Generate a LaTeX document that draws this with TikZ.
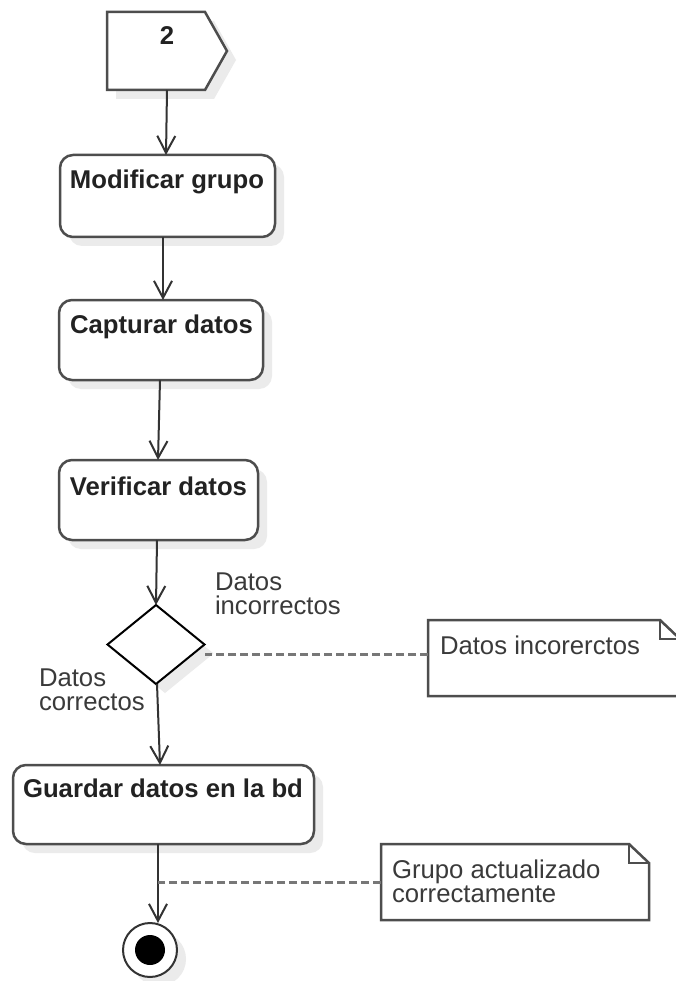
\documentclass[tikz,border=0pt]{standalone}
\usepackage{fontspec}
\setmainfont{Liberation Sans}
\usetikzlibrary{arrows.meta,shapes.geometric,shadows}

\definecolor{edgeC}{HTML}{333333}
\definecolor{boxC}{HTML}{4D4D4D}
\definecolor{txtC}{HTML}{3A3A3A}
\definecolor{boldC}{HTML}{222222}
\definecolor{shadeC}{HTML}{EBEBEB}
\definecolor{dashC}{HTML}{777777}

\begin{document}
\begin{tikzpicture}[x=1pt,y=-1pt,
  every node/.style={inner sep=0pt, outer sep=0pt},
  softshadow/.style={drop shadow={shadow xshift=9pt, shadow yshift=-9pt, fill=shadeC, opacity=1}},
  action/.style={draw=boxC, line width=2.5pt, fill=white, rounded corners=13pt, softshadow},
  boldlabel/.style={font=\fontsize{25.7}{24.5}\selectfont\bfseries, text=boldC, anchor=base},
  plainlabel/.style={font=\fontsize{25.7}{24.5}\selectfont, text=txtC, align=left, anchor=north west},
  flow/.style={draw=edgeC, line width=2pt, -{Straight Barb[length=17pt,width=18pt]}},
  notelink/.style={draw=dashC, line width=3pt, dash pattern=on 8pt off 4pt},
  noteline/.style={draw=boxC, line width=2.5pt, line join=miter},
  noteframe/.style={minimum width=#1, minimum height=76pt},
]
% canvas
\fill[white] (0,0) rectangle (675,981);
\useasboundingbox (0,0) rectangle (675,981);

% send-signal pentagon
\draw[draw=boxC, line width=2.5pt, fill=white, line join=miter, softshadow]
  (107,12) -- (205,12) -- (227,51) -- (205,90) -- (107,90) -- cycle;
\node[boldlabel] (sig) at (167,45) {2};
\coordinate (sigbot) at (167,90);

% actions
\node[action, minimum width=215pt, minimum height=82pt] (mod) at (167.5,196) {};
\node[boldlabel] (modt) at (167,189) {Modificar grupo};

\node[action, minimum width=204pt, minimum height=80pt] (cap) at (161,340) {};
\node[boldlabel] (capt) at (161.5,333) {Capturar datos};

\node[action, minimum width=199pt, minimum height=80pt] (ver) at (158.5,500) {};
\node[boldlabel] (vert) at (158.5,495) {Verificar datos};

% decision
\node[diamond, draw=black, line width=2pt, fill=white,
      minimum width=97pt, minimum height=79pt, softshadow] (dia) at (156,644.5) {};
\node[plainlabel] (lblno) at (215,572.6) {Datos\\incorrectos};
\node[plainlabel] (lblyes) at (39,668.6) {Datos\\correctos};

\node[action, minimum width=301pt, minimum height=79pt] (gua) at (163.5,804.5) {};
\node[boldlabel] (guat) at (163,797) {Guardar datos en la bd};

% final node
\node[circle, draw=edgeC, line width=2pt, fill=white, minimum size=54pt, softshadow] (fin) at (150,950) {};
\node[circle, fill=black, minimum size=30pt] (fincore) at (fin) {};

% notes
\node[noteframe=252pt] (n1) at (554,658) {};
\draw[noteline, fill=white] (n1.south west) -- (n1.north west) -- ([xshift=-20pt]n1.north east)
  -- ([yshift=-19pt]n1.north east) -- (n1.south east) -- cycle;
\draw[noteline] ([xshift=-20pt]n1.north east) -- ([xshift=-20pt,yshift=-19pt]n1.north east)
  -- ([yshift=-19pt]n1.north east);
\node[plainlabel] (n1t) at (440,635.6) {Datos incorerctos};

\node[noteframe=268pt] (n2) at (515,882) {};
\draw[noteline, fill=white] (n2.south west) -- (n2.north west) -- ([xshift=-20pt]n2.north east)
  -- ([yshift=-19pt]n2.north east) -- (n2.south east) -- cycle;
\draw[noteline] ([xshift=-20pt]n2.north east) -- ([xshift=-20pt,yshift=-19pt]n2.north east)
  -- ([yshift=-19pt]n2.north east);
\node[plainlabel] (n2t) at (392,859.6) {Grupo actualizado\\correctamente};

% control flow
\draw[flow] (sigbot) -- ([xshift=-1.5pt]mod.north);
\draw[flow] ([xshift=-4.5pt]mod.south) -- ([xshift=2pt]cap.north);
\draw[flow] ([xshift=-1pt]cap.south) -- ([xshift=-0.5pt]ver.north);
\draw[flow] ([xshift=-1.5pt]ver.south) -- (dia.north);
\draw[flow] ([xshift=1pt]dia.south) -- ([xshift=-3.5pt]gua.north);
\coordinate (guaout) at ([xshift=-5.5pt]gua.south);
\draw[flow] (guaout) -- ([xshift=8pt]fin.north);

% note links
\draw[notelink] ([yshift=4pt]n1.west) -- ([yshift=4pt]n1.west -| dia.east);
\draw[notelink] (n2.west) -- (n2.west -| guaout);
\end{tikzpicture}
\end{document}
